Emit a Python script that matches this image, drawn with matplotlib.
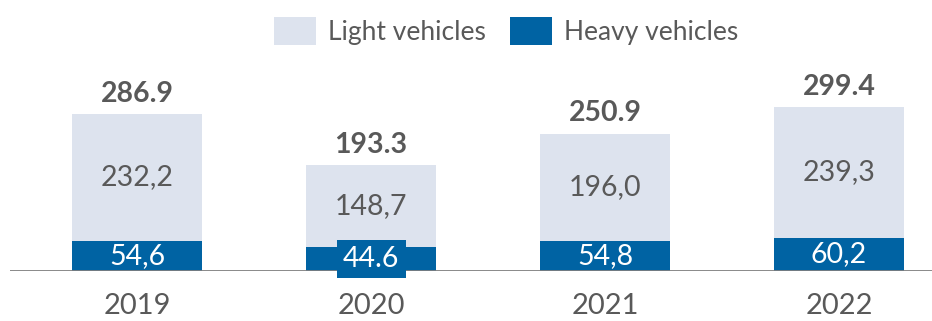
import matplotlib
matplotlib.use("Agg")
import matplotlib.pyplot as plt
from matplotlib.patches import Patch

years = ["2019", "2020", "2021", "2022"]
light = [232.2, 148.7, 196.0, 239.3]
heavy = [54.6, 44.6, 54.8, 60.2]
totals = [286.9, 193.3, 250.9, 299.4]
heavy_sep = [",", ".", ",", ","]

LIGHT_C = "#DDE3EE"
HEAVY_C = "#0063A3"
TEXT_C = "#595959"
FONT = ["Lato", "DejaVu Sans"]

plt.rcParams["font.family"] = FONT

fig = plt.figure(figsize=(9.32, 3.21), dpi=100)
ax = fig.add_axes([10 / 932, 50 / 321, 922 / 932, 211 / 321])

x = list(range(len(years)))
w = 0.556
ax.bar(x, heavy, width=w, color=HEAVY_C, zorder=2)
ax.bar(x, light, width=w, bottom=heavy, color=LIGHT_C, zorder=2)

ax.axhline(0, color="#7f7f7f", lw=2, zorder=3)

for i in x:
    # light segment value
    ax.text(i, heavy[i] + light[i] / 2, f"{light[i]:.1f}".replace(".", ","),
            ha="center", va="center", fontsize=20.5, color=TEXT_C, zorder=4)
    # heavy segment value
    lbl = f"{heavy[i]:.1f}".replace(".", heavy_sep[i])
    kw = {}
    if heavy_sep[i] == ".":
        kw["bbox"] = dict(facecolor=HEAVY_C, edgecolor="none", pad=4.5)
    ax.text(i, heavy[i] / 2, lbl, ha="center", va="center", fontsize=20.5,
            color="white", zorder=5, **kw)
    # total
    ax.text(i, totals[i] + 13, f"{totals[i]:.1f}", ha="center", va="bottom",
            fontsize=20.5, fontweight="bold", color=TEXT_C, zorder=4)

ax.set_xlim(-0.543, 3.397)
ax.set_ylim(0, 385)
ax.set_xticks(x)
ax.set_xticklabels(years, fontsize=21, color=TEXT_C)
ax.tick_params(axis="x", length=0, pad=16)
ax.set_yticks([])
for s in ax.spines.values():
    s.set_visible(False)

handles = [Patch(facecolor=LIGHT_C, label="Light vehicles"),
           Patch(facecolor=HEAVY_C, label="Heavy vehicles")]
leg = fig.legend(handles=handles, loc="center", bbox_to_anchor=(506 / 932, 1 - 31 / 321),
                 ncol=2, frameon=False, fontsize=19, handlelength=1.6, handleheight=1.3,
                 handletextpad=0.45, columnspacing=0.9)
for t in leg.get_texts():
    t.set_color(TEXT_C)

fig.savefig("out.png", dpi=100)
